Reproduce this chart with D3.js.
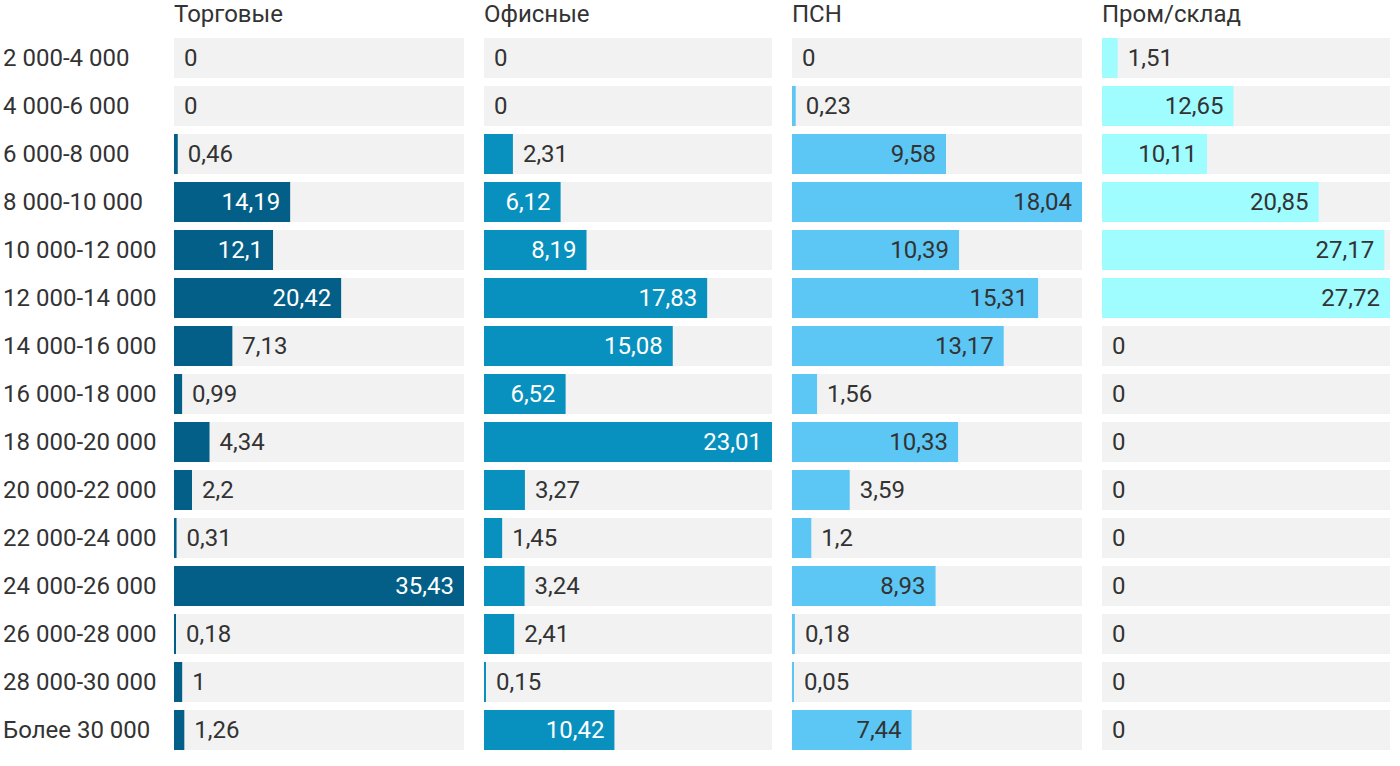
<!DOCTYPE html>
<html>
<head>
<meta charset="utf-8">
<script src="https://cdn.jsdelivr.net/npm/d3@7"></script>
<style>
  body { margin: 0; background: #fff; }
  text { font-family: Roboto, sans-serif; }
</style>
</head>
<body>
<script>
// data
var categories = ["2 000-4 000", "4 000-6 000", "6 000-8 000", "8 000-10 000", "10 000-12 000",
    "12 000-14 000", "14 000-16 000", "16 000-18 000", "18 000-20 000", "20 000-22 000",
    "22 000-24 000", "24 000-26 000", "26 000-28 000", "28 000-30 000", "Более 30 000"];
var seriesNames = ["Торговые", "Офисные", "ПСН", "Пром/склад"];
var torgovye = [0, 0, 0.46, 14.19, 12.1, 20.42, 7.13, 0.99, 4.34, 2.2, 0.31, 35.43, 0.18, 1, 1.26];
var ofisnye = [0, 0, 2.31, 6.12, 8.19, 17.83, 15.08, 6.52, 23.01, 3.27, 1.45, 3.24, 2.41, 0.15, 10.42];
var psn = [0, 0.23, 9.58, 18.04, 10.39, 15.31, 13.17, 1.56, 10.33, 3.59, 1.2, 8.93, 0.18, 0.05, 7.44];
var prom = [1.51, 12.65, 10.11, 20.85, 27.17, 27.72, 0, 0, 0, 0, 0, 0, 0, 0, 0];
var seriesValues = [torgovye, ofisnye, psn, prom];

var colors = ["#035f87", "#0891be", "#5cc7f4", "#9ffcff"];
var insideText = ["#ffffff", "#ffffff", "#333333", "#333333"];
var panelX = [174, 484, 792, 1102];
var panelW = [290, 288, 290, 288];

var width = 1400, height = 766;
var svg = d3.select("body").append("svg")
    .attr("width", width)
    .attr("height", height);

var yScale = d3.scaleBand()
    .domain(categories)
    .range([38 - 4, 38 - 4 + 48 * categories.length])
    .paddingInner(8 / 48)
    .paddingOuter(4 / 48);

var fmt = function (v) { return String(v).replace(".", ","); };
var fontSize = "24px";

// row labels
svg.selectAll(".row-label")
    .data(categories)
    .enter()
    .append("text")
    .attr("class", "row-label")
    .attr("x", 3)
    .attr("y", function (d) { return yScale(d) + yScale.bandwidth() / 2; })
    .attr("dy", "0.35em")
    .style("font-size", fontSize)
    .style("fill", "#333")
    .text(function (d) { return d; });

seriesNames.forEach(function (name, i) {
    var vals = seriesValues[i];
    var xScale = d3.scaleLinear()
        .domain([0, d3.max(vals)])
        .range([0, panelW[i]]);

    var g = svg.append("g")
        .attr("transform", "translate(" + panelX[i] + ",0)");

    g.append("text")
        .attr("x", 0)
        .attr("y", 22)
        .style("font-size", fontSize)
        .style("fill", "#333")
        .text(name);

    var rows = g.selectAll(".row")
        .data(vals.map(function (v, j) { return { cat: categories[j], v: v }; }))
        .enter()
        .append("g")
        .attr("transform", function (d) { return "translate(0," + yScale(d.cat) + ")"; });

    rows.append("rect")
        .attr("width", panelW[i])
        .attr("height", yScale.bandwidth())
        .attr("fill", "#f2f2f2");

    rows.append("rect")
        .attr("width", function (d) { return d.v > 0 ? Math.max(xScale(d.v), 2) : 0; })
        .attr("height", yScale.bandwidth())
        .attr("fill", colors[i]);

    rows.append("text")
        .attr("y", yScale.bandwidth() / 2)
        .attr("dy", "0.35em")
        .style("font-size", fontSize)
        .text(function (d) { return fmt(d.v); })
        .each(function (d) {
            var t = d3.select(this);
            var tw = this.getComputedTextLength();
            var bw = d.v > 0 ? Math.max(xScale(d.v), 2) : 0;
            if (bw > tw + 20) {
                t.attr("x", bw - 10).attr("text-anchor", "end").style("fill", insideText[i]);
            } else {
                t.attr("x", bw + 10).attr("text-anchor", "start").style("fill", "#333");
            }
        });
});
</script>
</body>
</html>
